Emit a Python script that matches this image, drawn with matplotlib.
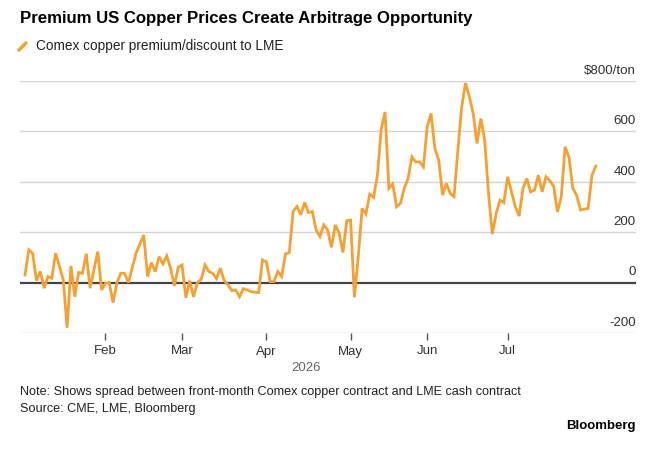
import numpy as np
import pandas as pd
import matplotlib
matplotlib.use('Agg')
import matplotlib.pyplot as plt
from matplotlib.lines import Line2D
import matplotlib.transforms as mtransforms

plt.rcParams['font.family'] = ['Liberation Sans', 'DejaVu Sans']

# Comex copper premium/discount to LME, $/ton, one value per trading day
premium = [
    30, 130, 116, 8, 44, -22, 24, 17, 117, 64,
    11, -179, 66, -56, 40, 37, 114, -22, 50, 123,
    -29, -3, 0, -79, 0, 37, 37, 0, 58, 117,
    153, 189, 24, 79, 44, 103, 74, 106, 57, -13,
    61, 70, -60, 8, -56, 0, 13, 70, 44, 37,
    16, 57, 8, -9, -32, -29, -56, -24, -29, -36,
    -38, -40, 90, 83, 4, 4, 44, 24, 114, 119,
    282, 302, 269, 318, 278, 282, 209, 183, 229, 209,
    140, 229, 196, 119, 246, 248, -58, 103, 294, 272,
    351, 338, 426, 611, 677, 374, 391, 301, 314, 374,
    413, 499, 479, 479, 459, 618, 671, 532, 486, 347,
    393, 354, 341, 525, 697, 792, 737, 671, 552, 651,
    565, 354, 193, 275, 327, 317, 420, 360, 301, 264,
    374, 413, 360, 367, 426, 360, 420, 404, 383, 281,
    341, 539, 497, 374, 347, 288, 292, 294, 426, 462,
]
dates = pd.bdate_range('2026-01-02', periods=len(premium), freq='C',
                       holidays=['2026-05-25', '2026-06-19'])
month_names = ['Feb', 'Mar', 'Apr', 'May', 'Jun', 'Jul']
y_ticks = [-200, 0, 200, 400, 600, 800]
y_labels = ['-200', '0', '200', '400', '600', '$800/ton']

ORANGE = '#f5a031'

fig = plt.figure(figsize=(6.65, 4.54), dpi=100)
ax = fig.add_axes([20 / 665, 121 / 454, 616 / 665, 252 / 454])

x = np.arange(len(premium))
ax.plot(x, premium, color=ORANGE, linewidth=2, zorder=3, solid_joinstyle='miter')

ax.set_xlim(-1.3, 159.5)
ax.set_ylim(-200, 800)

for v in y_ticks:
    if v == 0:
        ax.axhline(v, color='#444444', linewidth=1.6, zorder=2)
    else:
        ax.axhline(v, color='#d4d4d4', linewidth=1, zorder=1)

# y labels sit above the gridlines, right aligned
offset = mtransforms.offset_copy(ax.get_yaxis_transform(), fig=fig, y=3, units='points')
for v, lab in zip(y_ticks, y_labels):
    ax.text(1.0, v, lab, transform=offset, ha='right', va='bottom',
            fontsize=9.6, color='#333333')

# month ticks at the first trading day of each month
month_pos = [int(np.argmax(dates >= pd.Timestamp(2026, m, 1))) for m in range(2, 8)]
ax.set_xticks(month_pos)
ax.set_xticklabels(month_names, fontsize=9.5, color='#333333')
ax.tick_params(axis='x', length=5, width=1, color='#555555', pad=4)
ax.set_yticks([])
for s in ax.spines.values():
    s.set_visible(False)

ax.text(0.464, -0.115, '2026', transform=ax.transAxes, ha='center', va='top',
        fontsize=9.5, color='#666666')

# title and legend
fig.text(20 / 665, 1 - 19 / 454, 'Premium US Copper Prices Create Arbitrage Opportunity',
         fontsize=12.1, fontweight='bold', ha='left', va='center', color='#000000')
fig.add_artist(Line2D([19 / 665, 26 / 665], [1 - 50 / 454, 1 - 43 / 454],
                      color=ORANGE, linewidth=2.5, solid_capstyle='round'))
fig.text(36 / 665, 1 - 46 / 454, 'Comex copper premium/discount to LME',
         fontsize=9.85, ha='left', va='center', color='#222222')

# footer
fig.text(20 / 665, 1 - 392 / 454,
         'Note: Shows spread between front-month Comex copper contract and LME cash contract',
         fontsize=9.05, ha='left', va='center', color='#222222')
fig.text(20 / 665, 1 - 409 / 454, 'Source: CME, LME, Bloomberg',
         fontsize=9.05, ha='left', va='center', color='#222222')
fig.text(636 / 665, 1 - 426 / 454, 'Bloomberg',
         fontsize=9.5, fontweight='bold', ha='right', va='center', color='#000000')

fig.savefig('out.png', dpi=100, facecolor='white')
